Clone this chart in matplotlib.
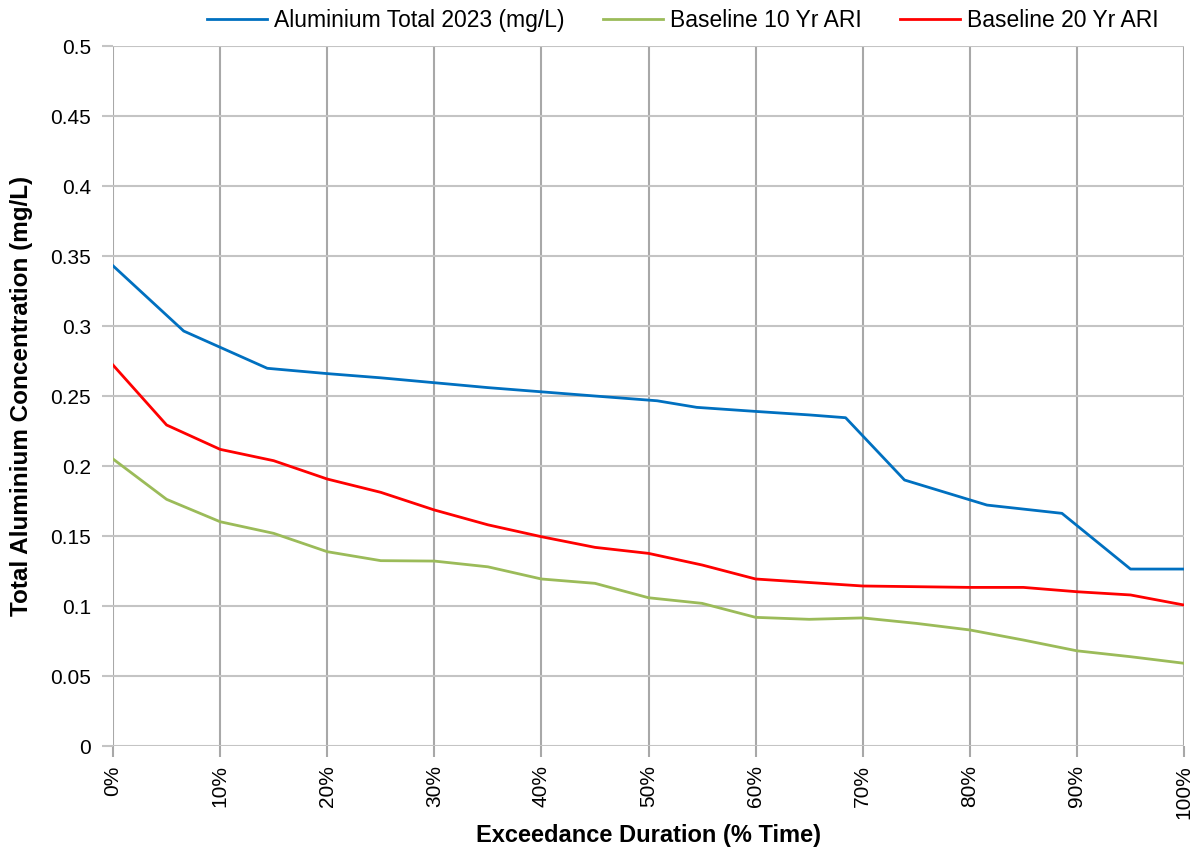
import matplotlib
matplotlib.use('Agg')
from matplotlib import pyplot as plt
from matplotlib.ticker import PercentFormatter, MultipleLocator

# exceedance duration (% time) and concentrations (mg/L)
al_2023_x = [0, 6.6, 14.4, 20, 25, 30, 35, 40, 45, 50.8, 54.5, 60, 65, 68.4, 73.9, 81.6, 88.6, 95, 100]
al_2023_y = [0.343, 0.2964, 0.2698, 0.266, 0.263, 0.2595, 0.256, 0.253, 0.25, 0.2466, 0.2419,
             0.239, 0.2365, 0.2345, 0.19, 0.1721, 0.1662, 0.1264, 0.1264]

base_x = [0, 5, 10, 15, 20, 25, 30, 35, 40, 45, 50, 55, 60, 65, 70, 75, 80, 85, 90, 95, 100]
base_10yr = [0.205, 0.1762, 0.1602, 0.1519, 0.1388, 0.1324, 0.1321, 0.128, 0.1193, 0.1162, 0.1059,
             0.1019, 0.0919, 0.0905, 0.0915, 0.0876, 0.0829, 0.0757, 0.068, 0.0638, 0.0591]
base_20yr = [0.2721, 0.2293, 0.2119, 0.2038, 0.1907, 0.1812, 0.1686, 0.158, 0.1495, 0.1419, 0.1376,
             0.1293, 0.1193, 0.1168, 0.1143, 0.1138, 0.1133, 0.1133, 0.1102, 0.1079, 0.1007]

y_ticks = [0, 0.05, 0.1, 0.15, 0.2, 0.25, 0.3, 0.35, 0.4, 0.45, 0.5]
y_labels = ['0', '0.05', '0.1', '0.15', '0.2', '0.25', '0.3', '0.35', '0.4', '0.45', '0.5']

plt.rcParams['font.family'] = ['Liberation Sans', 'DejaVu Sans']

fig = plt.figure(figsize=(12, 8.49), dpi=100)
ax = fig.add_axes([0.0942, 0.1213, 0.8925, 0.8245])

ax.plot(al_2023_x, al_2023_y, color='#0070C0', lw=2, label='Aluminium Total 2023 (mg/L)')
ax.plot(base_x, base_10yr, color='#9BBB59', lw=2, label='Baseline 10 Yr ARI')
ax.plot(base_x, base_20yr, color='#FF0000', lw=2, label='Baseline 20 Yr ARI')

ax.set_xlim(0, 100)
ax.set_ylim(0, 0.5)
ax.xaxis.set_major_locator(MultipleLocator(10))
ax.xaxis.set_major_formatter(PercentFormatter(decimals=0))
ax.set_yticks(y_ticks, y_labels)

# vertical grid a touch darker than horizontal, like the original
ax.grid(True, axis='x', color='#a8a8a8', lw=1.5)
ax.grid(True, axis='y', color='#c4c4c4', lw=1.5)
ax.set_axisbelow(True)
for s in ax.spines.values():
    s.set_visible(False)
ax.tick_params(axis='both', width=1.5, length=8, labelcolor='black', labelsize=15)
ax.tick_params(axis='x', colors='#a8a8a8', labelcolor='black', labelrotation=90, pad=6)
ax.tick_params(axis='y', colors='#c4c4c4', labelcolor='black', pad=8)

ax.set_xlabel('Exceedance Duration (% Time)', fontsize=17, fontweight='bold')
ax.set_ylabel('Total Aluminium Concentration (mg/L)', fontsize=17.5, fontweight='bold')
ax.xaxis.set_label_coords(0.5, -0.112)
ax.yaxis.set_label_coords(-0.075, 0.5)

fig.legend(loc='upper center', bbox_to_anchor=(0.569, 1.014), ncol=3, frameon=False,
           fontsize=16.5, handlelength=2.6, columnspacing=1.7, handletextpad=0.3)

fig.savefig('out.png', dpi=100)
